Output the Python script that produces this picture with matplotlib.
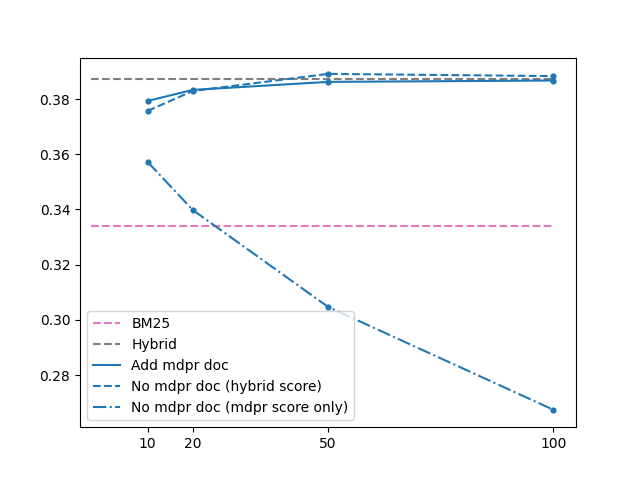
import matplotlib
matplotlib.use("Agg")
import matplotlib.pyplot as plt

k = [10, 20, 50, 100]
bm25 = 0.334
hybrid = 0.3872
add_mdpr = [0.3793, 0.3833, 0.3862, 0.3867]
no_mdpr_hybrid = [0.3757, 0.3829, 0.3891, 0.3883]
no_mdpr_only = [0.3572, 0.3398, 0.3047, 0.2674]

fig, ax = plt.subplots(figsize=(6.4, 4.8), dpi=100)
ax.hlines(bm25, -2.5, 100, colors="#e377c2", linestyles="--", label="BM25")
ax.hlines(hybrid, -2.5, 100, colors="#7f7f7f", linestyles="--", label="Hybrid")
ax.plot(k, add_mdpr, "-", color="C0", label="Add mdpr doc")
ax.plot(k, no_mdpr_hybrid, "--", color="C0", label="No mdpr doc (hybrid score)")
ax.plot(k, no_mdpr_only, "-.", color="C0", label="No mdpr doc (mdpr score only)")
for ys in (add_mdpr, no_mdpr_hybrid, no_mdpr_only):
    ax.scatter(k, ys, s=12, color="C0", zorder=3)
ax.set_xticks(k)
ax.set_xlim(-5, 105)
ax.set_ylim(0.2611, 0.395)
ax.legend(loc="lower left")
fig.savefig("out.png")
